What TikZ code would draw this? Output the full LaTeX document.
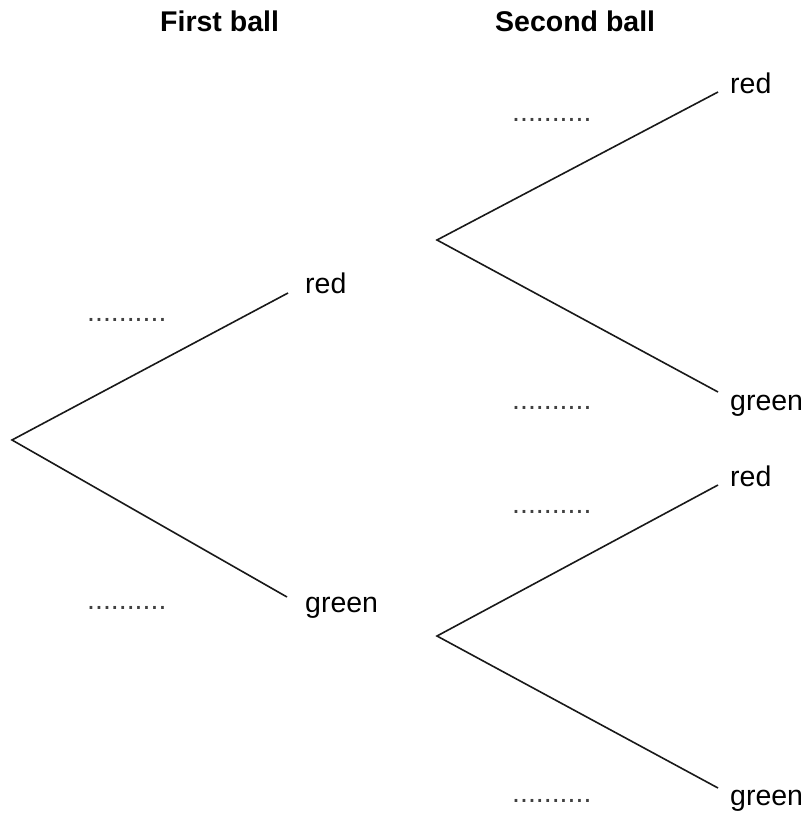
\documentclass[tikz,border=0pt]{standalone}
\usepackage{fontspec}
\setmainfont{Liberation Sans}
\begin{document}
\begin{tikzpicture}[x=1pt,y=-1pt,
  lbl/.style={anchor=base west,inner sep=0pt,font=\fontsize{28.5}{32}\selectfont},
  ttl/.style={anchor=base west,inner sep=0pt,font=\fontsize{28.5}{32}\selectfont\bfseries},
  blank/.style={anchor=base west,inner sep=0pt,font=\fontsize{28.5}{32}\selectfont,text=black!75},
  branch/.style={line width=1.6pt,black!90}]
\useasboundingbox (0,0) rectangle (809,816);
\node[ttl] (t1) at (160,32) {First ball};
\node[ttl] (t2) at (495,32) {Second ball};
% first tree
\coordinate (r1) at (12,440);
\coordinate (e1a) at (288,293);
\coordinate (e1b) at (287,597);
\draw[branch] (e1a) -- (r1) -- (e1b);
\node[lbl] (l1a) at (305,293) {red};
\node[lbl] (l1b) at (305,612) {green};
\node[blank] (d1a) at (87,321) {..........};
\node[blank] (d1b) at (87,609) {..........};
% second tree top
\coordinate (r2) at (437,240);
\coordinate (e2a) at (718,92);
\coordinate (e2b) at (718,392);
\draw[branch] (e2a) -- (r2) -- (e2b);
\node[lbl] (l2a) at (730,93) {red};
\node[lbl] (l2b) at (730,410) {green};
\node[blank] (d2a) at (512,121) {..........};
\node[blank] (d2b) at (512,409) {..........};
% second tree bottom
\coordinate (r3) at (437,636);
\coordinate (e3a) at (718,485);
\coordinate (e3b) at (718,788);
\draw[branch] (e3a) -- (r3) -- (e3b);
\node[lbl] (l3a) at (730,486) {red};
\node[lbl] (l3b) at (730,805) {green};
\node[blank] (d3a) at (512,513) {..........};
\node[blank] (d3b) at (512,802) {..........};
\end{tikzpicture}
\end{document}
